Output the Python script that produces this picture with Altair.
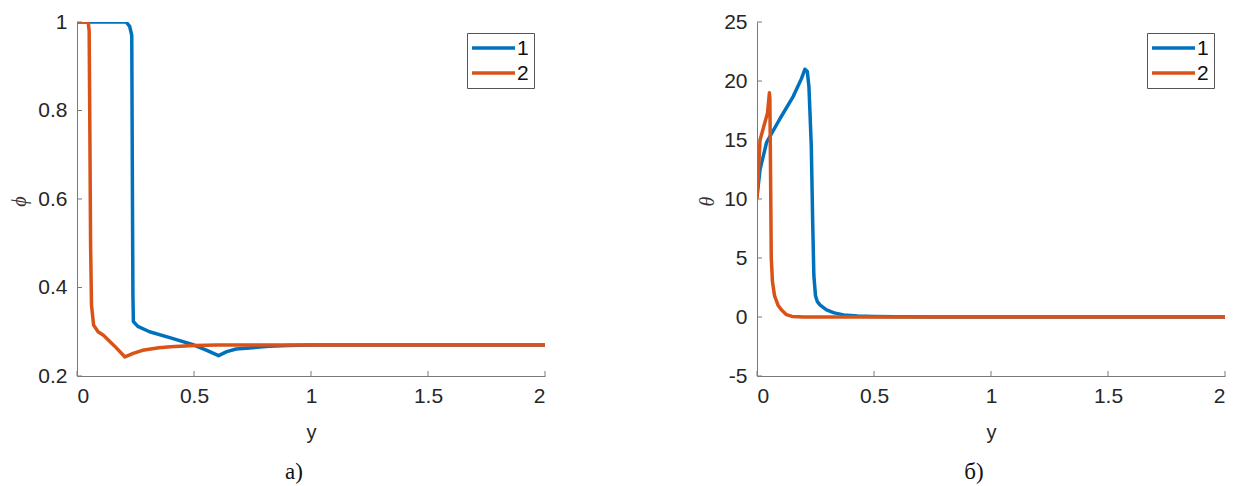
import altair as alt
import pandas as pd

series_names = ["1", "2"]
colors = ["#0072BD", "#D95319"]

x_ticks = [0, 0.5, 1, 1.5, 2]
phi_ticks = [0.2, 0.4, 0.6, 0.8, 1]
theta_ticks = [-5, 0, 5, 10, 15, 20, 25]

# panel a) phi
phi1_x = [0, 0.10, 0.21, 0.225, 0.234, 0.237, 0.239, 0.241, 0.26, 0.31, 0.40, 0.50, 0.55, 0.605,
          0.64, 0.68, 0.75, 0.82, 0.9, 1.0, 1.5, 2.0]
phi1_y = [1, 1, 1, 0.99, 0.97, 0.6, 0.38, 0.323, 0.312, 0.300, 0.286, 0.270, 0.259, 0.246,
          0.255, 0.261, 0.264, 0.267, 0.269, 0.27, 0.27, 0.27]
phi2_x = [0, 0.048, 0.052, 0.055, 0.058, 0.062, 0.071, 0.09, 0.113, 0.16, 0.205, 0.24, 0.28,
          0.35, 0.40, 0.5, 0.6, 1.0, 2.0]
phi2_y = [1, 1, 0.98, 0.75, 0.5, 0.36, 0.315, 0.300, 0.292, 0.268, 0.243, 0.251, 0.258,
          0.264, 0.266, 0.269, 0.27, 0.27, 0.27]

# panel б) theta
theta1_x = [0, 0.013, 0.041, 0.098, 0.155, 0.19, 0.205, 0.215, 0.222, 0.232, 0.238, 0.243,
            0.25, 0.258, 0.27, 0.297, 0.33, 0.37, 0.43, 0.5, 0.6, 0.75, 1.0, 2.0]
theta1_y = [10.2, 12.5, 14.8, 16.8, 18.7, 20.2, 21.0, 20.8, 19.5, 14.5, 8.0, 3.5,
            1.8, 1.3, 1.0, 0.6, 0.35, 0.18, 0.08, 0.04, 0.02, 0.0, 0.0, 0.0]
theta2_x = [0, 0.013, 0.034, 0.045, 0.053, 0.055, 0.058, 0.061, 0.066, 0.075, 0.09, 0.105,
            0.126, 0.15, 0.2, 2.0]
theta2_y = [10, 15, 16.5, 17.3, 19.0, 18.5, 12, 5, 3, 1.8, 1.0, 0.6,
            0.2, 0.05, 0, 0]

W, H = 468, 354
AXIS = "#7a7a7a"
TXT = "#262626"


def panel(xs_list, ys_list, ydomain, yticks, ytitle, ytitle_x, caption):
    rows = []
    for name, xs, ys in zip(series_names, xs_list, ys_list):
        for a, b in zip(xs, ys):
            rows.append({"x": a, "v": b, "s": name})
    df = pd.DataFrame(rows)
    xsc = alt.Scale(domain=[0, 2], nice=False, zero=False)
    ysc = alt.Scale(domain=ydomain, nice=False, zero=False)
    x_axis = alt.Axis(
        values=x_ticks, title="y", labelExpr="'' + datum.value", grid=False, ticks=False,
        labelPadding=9, titleX=W / 2, titleY=56, titleBaseline="middle",
        titleFont="Liberation Sans", titleFontSize=20, titleFontWeight="normal",
        titleColor=TXT)
    y_axis = alt.Axis(
        values=yticks, title=ytitle, labelExpr="'' + datum.value", grid=False, ticks=False,
        labelPadding=10, titleX=ytitle_x, titleY=H / 2 + 2, titleBaseline="middle",
        titleAlign="center", titleFont="Liberation Serif", titleFontStyle="italic",
        titleFontSize=20, titleFontWeight="normal", titleColor="#333")

    lines = alt.Chart(df).mark_line(strokeWidth=3.5, strokeJoin="round", clip=True).encode(
        x=alt.X("x:Q", scale=xsc, axis=x_axis, title="y"),
        y=alt.Y("v:Q", scale=ysc, axis=y_axis, title=ytitle),
        color=alt.Color("s:N", scale=alt.Scale(domain=series_names, range=colors), legend=None),
    )

    xt = alt.Chart(pd.DataFrame({"t": x_ticks})).mark_rule(color=AXIS, strokeWidth=1).encode(
        x=alt.X("t:Q", scale=xsc, axis=x_axis, title="y"), y=alt.value(H), y2=alt.value(H - 5))
    yt = alt.Chart(pd.DataFrame({"t": yticks})).mark_rule(color=AXIS, strokeWidth=1).encode(
        y=alt.Y("t:Q", scale=ysc, axis=y_axis, title=ytitle), x=alt.value(0), x2=alt.value(5))

    layers = [lines, xt, yt]
    # legend box
    box = alt.Chart(pd.DataFrame({"k": [0]})).mark_rect(
        fill="white", stroke="#555", strokeWidth=1).encode(
        x=alt.value(390.5), x2=alt.value(457.5), y=alt.value(11.5), y2=alt.value(66.5))
    layers.append(box)
    for i, (name, col) in enumerate(zip(series_names, colors)):
        yy = 26 + 25 * i
        ln = alt.Chart(pd.DataFrame({"s": [name]})).mark_rule(
            color=col, strokeWidth=3.5).encode(
            x=alt.value(395), x2=alt.value(438), y=alt.value(yy))
        tx = alt.Chart(pd.DataFrame({"s": [name]})).mark_text(
            align="left", baseline="middle", fontSize=21, font="Liberation Sans",
            color="#111").encode(x=alt.value(440), y=alt.value(yy + 1), text="s:N")
        layers += [ln, tx]
    cap = alt.Chart(pd.DataFrame({"c": [caption]})).mark_text(
        align="center", baseline="middle", fontSize=23, font="Liberation Serif",
        color="#111").encode(x=alt.value(217), y=alt.value(450), text="c:N")
    layers.append(cap)
    return alt.layer(*layers).properties(width=W, height=H)


left = panel([phi1_x, phi2_x], [phi1_y, phi2_y], [0.2, 1], phi_ticks, "ϕ", -58, "а)")
right = panel([theta1_x, theta2_x], [theta1_y, theta2_y], [-5, 25], theta_ticks, "θ", -50, "б)")

chart = alt.hconcat(left, right, spacing=212, bounds="flush").resolve_scale(
    color="independent", x="independent", y="independent"
).properties(
    padding={"left": 9, "top": 11, "right": 5, "bottom": 0}, background="white"
).configure_view(
    stroke="transparent", strokeWidth=0
).configure_axis(
    grid=False, ticks=False, domainColor=AXIS, domainWidth=1,
    labelFont="Liberation Sans", labelFontSize=21, labelColor=TXT,
)

chart.save("out.html", embed_options={"renderer": "svg", "actions": False})
